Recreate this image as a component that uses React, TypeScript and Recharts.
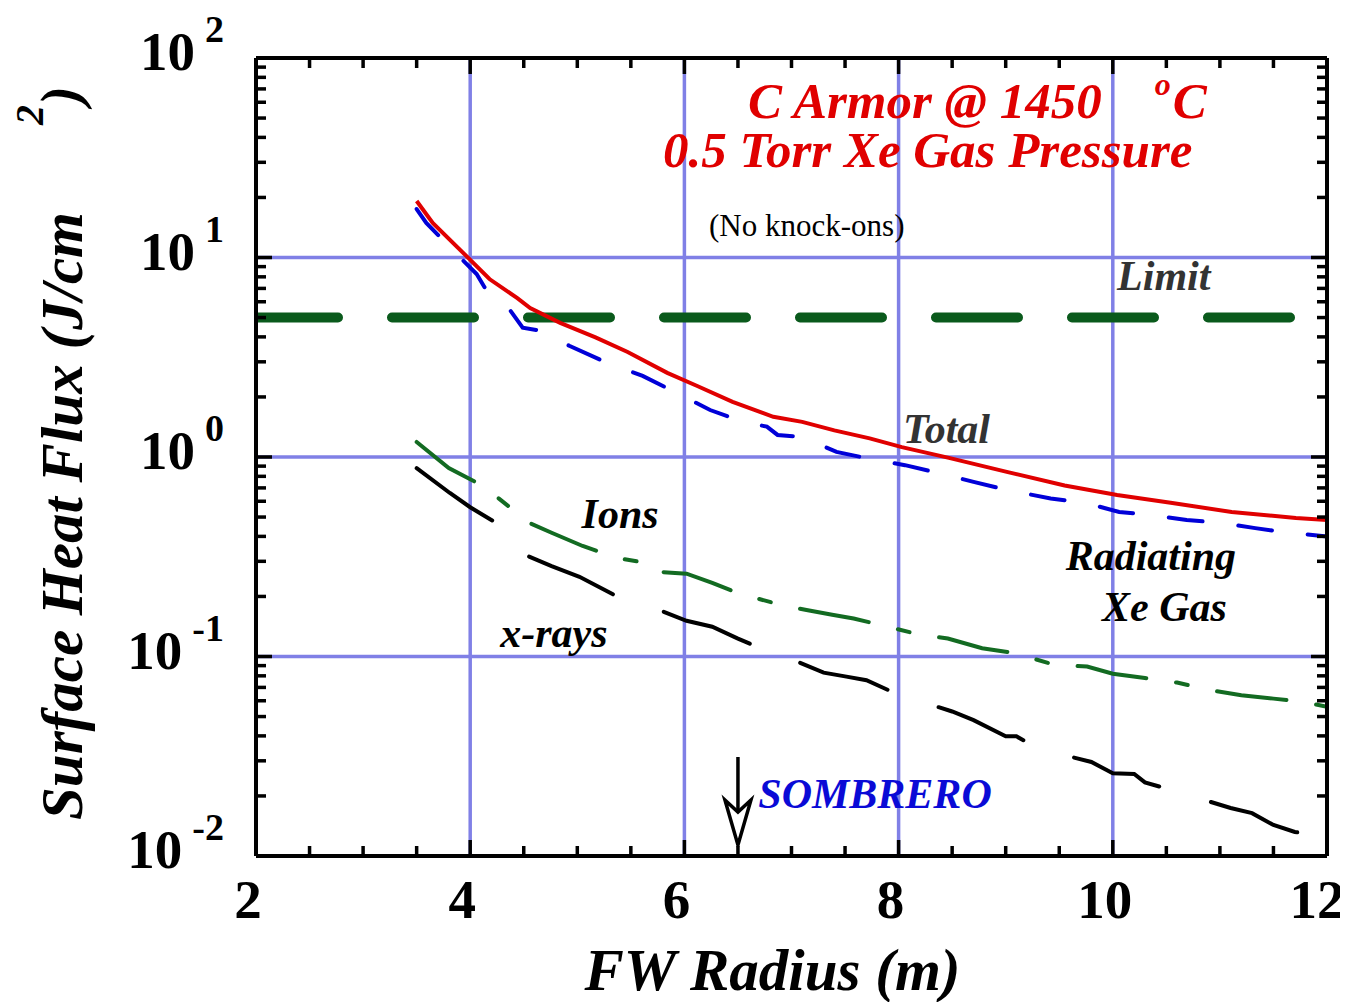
import React from 'react';
import { LineChart, Line, XAxis, YAxis, ReferenceLine, ReferenceDot } from 'recharts';

const SERIF = '"Liberation Serif", "Times New Roman", serif';
const GRID = '#8080e6';

// ---- axes ----
const X_TICKS = [2, 2.5, 3, 3.5, 4, 4.5, 5, 5.5, 6, 6.5, 7, 7.5, 8, 8.5, 9, 9.5, 10, 10.5, 11, 11.5, 12];
const X_MAJOR = [2, 4, 6, 8, 10, 12];
const Y_TICKS = [
  0.01, 0.02, 0.03, 0.04, 0.05, 0.06, 0.07, 0.08, 0.09,
  0.1, 0.2, 0.3, 0.4, 0.5, 0.6, 0.7, 0.8, 0.9,
  1, 2, 3, 4, 5, 6, 7, 8, 9,
  10, 20, 30, 40, 50, 60, 70, 80, 90, 100,
];
const Y_MAJOR = [0.01, 0.1, 1, 10, 100];
const Y_EXP = ['-2', '-1', '0', '1', '2'];
const GRID_X = [4, 6, 8, 10];
const GRID_Y = [0.1, 1, 10];

// ---- series ----
const TOTAL_R = [3.5, 3.65, 3.97, 4.18, 4.44, 4.56, 4.84, 5.17, 5.47, 5.84, 6.12, 6.45, 6.83, 7.1, 7.4, 7.73, 8.03, 8.47, 9.02, 9.55, 10.04, 10.54, 11.11, 11.71, 12.0];
const TOTAL_FLUX = [19.2, 14.9, 10.1, 7.8, 6.26, 5.58, 4.7, 3.98, 3.36, 2.64, 2.27, 1.89, 1.59, 1.5, 1.36, 1.24, 1.12, 0.99, 0.84, 0.72, 0.645, 0.59, 0.53, 0.495, 0.483];

const XE_R = [3.5, 3.59, 3.78, 4.06, 4.15, 4.33, 4.49, 4.65, 4.78, 4.93, 5.28, 5.61, 5.91, 6.24, 6.55, 6.77, 6.87, 7.1, 7.42, 7.73, 8.06, 8.38, 8.7, 9.03, 9.42, 9.74, 10.06, 10.38, 10.69, 11.01, 11.33, 11.65, 12.0];
const XE_FLUX = [17.5, 14.9, 11.7, 8.26, 6.87, 5.85, 4.45, 4.3, 3.95, 3.6, 2.96, 2.55, 2.12, 1.72, 1.5, 1.42, 1.29, 1.26, 1.06, 0.98, 0.91, 0.83, 0.75, 0.68, 0.62, 0.59, 0.53, 0.51, 0.483, 0.468, 0.44, 0.417, 0.4];

const IONS_R = [3.5, 3.8, 4.12, 4.37, 4.49, 4.76, 5.05, 5.37, 5.63, 5.75, 6.02, 6.26, 6.47, 6.61, 6.89, 7.14, 7.38, 7.58, 7.88, 8.16, 8.46, 8.78, 9.08, 9.45, 9.76, 10.0, 10.3, 10.6, 10.9, 11.2, 11.5, 11.8, 12.0];
const IONS_FLUX = [1.19, 0.88, 0.716, 0.56, 0.483, 0.417, 0.358, 0.312, 0.295, 0.266, 0.26, 0.234, 0.211, 0.2, 0.182, 0.171, 0.162, 0.155, 0.142, 0.13, 0.123, 0.11, 0.104, 0.091, 0.089, 0.082, 0.078, 0.074, 0.068, 0.064, 0.0615, 0.059, 0.056];

const XRAY_R = [3.5, 3.81, 4.0, 4.23, 4.42, 4.49, 4.76, 5.02, 5.37, 5.55, 6.02, 6.26, 6.5, 6.8, 7.0, 7.3, 7.5, 7.7, 7.9, 8.1, 8.5, 8.7, 9.0, 9.1, 9.3, 9.8, 10.0, 10.2, 10.3, 10.6, 11.1, 11.3, 11.5, 11.7, 12.0];
const XRAY_FLUX = [0.88, 0.66, 0.56, 0.472, 0.4, 0.327, 0.284, 0.251, 0.2, 0.19, 0.151, 0.141, 0.123, 0.105, 0.097, 0.083, 0.0795, 0.076, 0.068, 0.062, 0.053, 0.048, 0.0398, 0.0398, 0.0346, 0.0296, 0.026, 0.0258, 0.0234, 0.021, 0.0174, 0.0164, 0.0143, 0.0132, 0.0124];

const LIMIT_R = [2, 12];
const LIMIT_FLUX = [5, 5];

const toPts = (xs: number[], ys: number[]) => xs.map((r, i) => ({ r, v: ys[i] }));

// ---- annotations (anchored in data coordinates) ----
const NOTES = [
  { x: 5.8, y: 28.4, text: '0.5 Torr Xe Gas Pressure', size: 51, color: '#e00000', bold: true, italic: true },
  { x: 6.23, y: 12.8, text: '(No knock-ons)', size: 31, color: '#000', bold: false, italic: false },
  { x: 10.04, y: 6.87, text: 'Limit', size: 42, color: '#333', bold: true, italic: true },
  { x: 8.04, y: 1.175, text: 'Total', size: 42, color: '#333', bold: true, italic: true },
  { x: 5.04, y: 0.44, text: 'Ions', size: 42, color: '#000', bold: true, italic: true },
  { x: 4.28, y: 0.1116, text: 'x-rays', size: 42, color: '#000', bold: true, italic: true },
  { x: 9.56, y: 0.2716, text: 'Radiating', size: 42, color: '#000', bold: true, italic: true },
  { x: 9.9, y: 0.1507, text: 'Xe Gas', size: 42, color: '#000', bold: true, italic: true },
  { x: 6.69, y: 0.0174, text: 'SOMBRERO', size: 42, color: '#0a0ad6', bold: true, italic: true },
];

const BottomTick = (p: any) => {
  const v = p.payload.value;
  const major = X_MAJOR.includes(v);
  return (
    <g>
      <line x1={p.x} x2={p.x} y1={p.y} y2={p.y - (major ? 16 : 10)} stroke="#000" strokeWidth={3.5} />
      {major && (
        <text x={p.x - (v === 12 ? 10 : 8)} y={p.y + 62} textAnchor="middle" fontFamily={SERIF} fontWeight="bold" fontSize={55} fill="#000">
          {v}
        </text>
      )}
    </g>
  );
};

const TopTick = (p: any) => {
  const v = p.payload.value;
  const major = X_MAJOR.includes(v);
  return <line x1={p.x} x2={p.x} y1={p.y} y2={p.y + (major ? 16 : 10)} stroke="#000" strokeWidth={3.5} />;
};

const LeftTick = (p: any) => {
  const v = p.payload.value;
  const idx = Y_MAJOR.indexOf(v);
  const major = idx >= 0;
  return (
    <g>
      <line x1={p.x} x2={p.x + (major ? 16 : 10)} y1={p.y} y2={p.y} stroke="#000" strokeWidth={3.5} />
      {major && (
        <text x={p.x - 32} y={p.y + 12} textAnchor="end" fontFamily={SERIF} fontWeight="bold" fontSize={55} fill="#000">
          10
          <tspan dx={10} dy={-28} fontSize={38}>{Y_EXP[idx]}</tspan>
        </text>
      )}
    </g>
  );
};

const RightTick = (p: any) => {
  const v = p.payload.value;
  const major = Y_MAJOR.includes(v);
  return <line x1={p.x} x2={p.x - (major ? 16 : 10)} y1={p.y} y2={p.y} stroke="#000" strokeWidth={3.5} />;
};

const XTitle = (p: any) => {
  const vb = p.viewBox || { x: 248, y: 848, width: 1071, height: 1 };
  return (
    <text x={vb.x + vb.width / 2 - 19} y={vb.y + 134} textAnchor="middle" fontFamily={SERIF} fontWeight="bold" fontStyle="italic" fontSize={59} fill="#000">
      FW Radius (m)
    </text>
  );
};

const YTitle = (p: any) => {
  const vb = p.viewBox || { x: 247, y: 50, width: 1, height: 798 };
  const x = vb.x + vb.width - 174;
  const y = vb.y + vb.height - 36;
  return (
    <text x={x} y={y} transform={`rotate(-90 ${x} ${y})`} textAnchor="start" fontFamily={SERIF} fontWeight="bold" fontStyle="italic" fontSize={59} fill="#000">
      Surface Heat Flux (J/cm
      <tspan dx={87} dy={-39} fontSize={40}>2</tspan>
      <tspan dx={0} dy={37} fontSize={57}>)</tspan>
    </text>
  );
};

const noteShape = (n: any) => (p: any) => (
  <text x={p.cx} y={p.cy} fontFamily={SERIF} fontWeight={n.bold ? 'bold' : 'normal'} fontStyle={n.italic ? 'italic' : 'normal'} fontSize={n.size} fill={n.color}>
    {n.text}
  </text>
);

const titleShape = (p: any) => (
  <text x={p.cx} y={p.cy} fontFamily={SERIF} fontWeight="bold" fontStyle="italic" fontSize={51} fill="#e00000">
    C Armor @ 1450
    <tspan dx={53} dy={-23} fontSize={32}>o</tspan>
    <tspan dx={2} dy={23} fontSize={51}>C</tspan>
  </text>
);

const arrowShape = (p: any) => {
  const cx = p.cx;
  const cy = p.cy;
  return (
    <g>
      <line x1={cx} x2={cx} y1={cy - 99} y2={cy - 44} stroke="#000" strokeWidth={3.5} />
      <polygon
        points={`${cx - 13},${cy - 56} ${cx},${cy - 44} ${cx + 13},${cy - 56} ${cx},${cy - 11}`}
        fill="#fff"
        stroke="#000"
        strokeWidth={3.5}
        strokeLinejoin="miter"
      />
    </g>
  );
};

export default function App() {
  return (
    <LineChart width={1340} height={994} margin={{ top: 49, right: 20, bottom: 145, left: 247 }}>
      {GRID_X.map((v) => (
        <ReferenceLine key={'gx' + v} x={v} stroke={GRID} strokeWidth={3.5} />
      ))}
      {GRID_Y.map((v) => (
        <ReferenceLine key={'gy' + v} y={v} stroke={GRID} strokeWidth={3.5} />
      ))}
      <XAxis
        dataKey="r"
        type="number"
        domain={[2, 12]}
        ticks={X_TICKS}
        interval={0}
        height={1}
        tickSize={0}
        tickMargin={0}
        tickLine={false}
        axisLine={{ stroke: '#000', strokeWidth: 4 }}
        tick={BottomTick}
        allowDataOverflow
        label={<XTitle />}
      />
      <XAxis
        xAxisId="top"
        orientation="top"
        dataKey="r"
        type="number"
        domain={[2, 12]}
        ticks={X_TICKS}
        interval={0}
        height={1}
        tickSize={0}
        tickMargin={0}
        tickLine={false}
        axisLine={{ stroke: '#000', strokeWidth: 4 }}
        tick={TopTick}
        allowDataOverflow
      />
      <YAxis
        type="number"
        scale="log"
        domain={[0.01, 100]}
        ticks={Y_TICKS}
        interval={0}
        width={1}
        tickSize={0}
        tickMargin={0}
        tickLine={false}
        axisLine={{ stroke: '#000', strokeWidth: 4 }}
        tick={LeftTick}
        allowDataOverflow
        label={<YTitle />}
      />
      <YAxis
        yAxisId="right"
        orientation="right"
        type="number"
        scale="log"
        domain={[0.01, 100]}
        ticks={Y_TICKS}
        interval={0}
        width={1}
        tickSize={0}
        tickMargin={0}
        tickLine={false}
        axisLine={{ stroke: '#000', strokeWidth: 4 }}
        tick={RightTick}
        allowDataOverflow
      />
      <Line
        data={toPts(LIMIT_R, LIMIT_FLUX)}
        dataKey="v"
        stroke="#0a5a1c"
        strokeWidth={10}
        strokeDasharray="82 54"
        strokeLinecap="round"
        dot={false}
        activeDot={false}
        isAnimationActive={false}
      />
      <Line
        data={toPts(XRAY_R, XRAY_FLUX)}
        dataKey="v"
        stroke="#000"
        strokeWidth={4}
        strokeDasharray="92 54"
        strokeLinecap="round"
        dot={false}
        activeDot={false}
        isAnimationActive={false}
      />
      <Line
        data={toPts(IONS_R, IONS_FLUX)}
        dataKey="v"
        stroke="#136b22"
        strokeWidth={4}
        strokeDasharray="70 30 12 30"
        strokeLinecap="round"
        dot={false}
        activeDot={false}
        isAnimationActive={false}
      />
      <Line
        data={toPts(XE_R, XE_FLUX)}
        dataKey="v"
        stroke="#0000d8"
        strokeWidth={4}
        strokeDasharray="34 36"
        strokeLinecap="round"
        dot={false}
        activeDot={false}
        isAnimationActive={false}
      />
      <Line
        data={toPts(TOTAL_R, TOTAL_FLUX)}
        dataKey="v"
        stroke="#e00000"
        strokeWidth={4}
        dot={false}
        activeDot={false}
        isAnimationActive={false}
      />
      <ReferenceDot x={6.594} y={50} r={0} shape={titleShape} />
      {NOTES.map((n) => (
        <ReferenceDot key={n.text} x={n.x} y={n.y} r={0} shape={noteShape(n)} />
      ))}
      <ReferenceDot x={6.5} y={0.01} r={0} shape={arrowShape} />
    </LineChart>
  );
}
